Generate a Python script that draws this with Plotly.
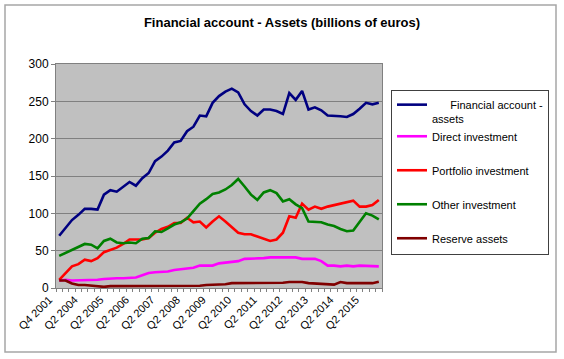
import plotly.graph_objects as go

quarters = ["Q4 2001", "Q4 2002", "Q4 2003"] + [f"Q{q} {y}" for y in range(2004, 2016) for q in range(1, 5)]

financial_account = [70, 81, 91, 98, 106, 106, 105, 125, 131, 129, 136, 142, 137, 147, 154, 170, 176, 184, 195, 197,
                     210, 216, 231, 230, 248, 257, 263, 267, 262, 246, 237, 231, 239, 239, 237, 233, 261, 252, 264, 239,
                     242, 238, 231, 231, 230, 229, 233, 240, 248, 246, 248]
direct_investment = [10, 11, 10, 10, 11, 11, 11, 12, 13, 13, 13, 14, 14, 17, 20, 21, 21, 22, 24, 25,
                     26, 27, 30, 30, 30, 33, 34, 36, 36, 39, 39, 39, 40, 41, 41, 41, 41, 41, 39, 39,
                     39, 36, 30, 30, 29, 30, 29, 30, 30, 30, 29]
portfolio_investment = [11, 20, 29, 32, 38, 36, 40, 48, 51, 54, 59, 65, 65, 65, 67, 74, 79, 82, 87, 87,
                        94, 88, 89, 81, 89, 96, 89, 82, 74, 72, 72, 69, 66, 63, 65, 74, 96, 94, 113, 105,
                        109, 106, 109, 111, 113, 116, 117, 109, 109, 111, 118]
other_investment = [43, 47, 52, 56, 59, 58, 53, 63, 66, 61, 60, 61, 60, 66, 67, 76, 75, 80, 85, 88,
                    93, 103, 113, 119, 126, 128, 132, 138, 146, 136, 125, 118, 128, 131, 127, 116, 119, 112, 107, 89,
                    89, 88, 85, 83, 79, 76, 77, 89, 100, 97, 92]
reserve_assets = [10, 10, 6, 4, 4, 3.5, 2.5, 1.5, 2.5, 2.5, 2.5, 3, 3, 3, 3, 3, 3, 3, 3, 3,
                  3, 3, 3, 4, 4, 4, 5, 6.5, 6.5, 6.5, 6.5, 6.5, 6.5, 6.5, 7, 7, 8, 8, 8, 6.5,
                  6, 6, 5.5, 4.5, 8, 6.5, 6.5, 6.5, 7, 6.5, 8.5]

series_names = ["\u00a0" * 6 + "Financial account -<br>assets", "Direct investment",
                "Portfolio investment", "Other investment", "Reserve assets"]
series_values = [financial_account, direct_investment, portfolio_investment, other_investment, reserve_assets]
series_colors = ["#000080", "#FF00FF", "#FF0000", "#008000", "#800000"]
series_groups = ["g1", "g1", "g2", "g3", "g4"]

tick_labels = [q if i % 4 == 0 else "" for i, q in enumerate(quarters)]

FONT = "Liberation Sans, Arial, sans-serif"

fig = go.Figure()
for name, vals, col, grp in zip(series_names, series_values, series_colors, series_groups):
    fig.add_trace(go.Scatter(x=quarters, y=vals, mode="lines", name=name,
                             line=dict(color=col, width=2.6), legendgroup=grp))

fig.update_layout(
    width=564, height=359,
    margin=dict(l=56, r=182, t=64, b=71),
    paper_bgcolor="white",
    plot_bgcolor="#C0C0C0",
    font=dict(family=FONT, size=11, color="black"),
    title=dict(text="<b>Financial account - Assets (billions of euros)</b>",
               x=0.5, xref="container", xanchor="center",
               y=1 - 22 / 359, yref="container", yanchor="middle",
               font=dict(family=FONT, size=13, color="black")),
    showlegend=True,
    legend=dict(x=(391 - 56) / 326, y=(288 - 90) / 224, xanchor="left", yanchor="top",
                bordercolor="#404040", borderwidth=1, bgcolor="white",
                font=dict(family=FONT, size=11, color="black"),
                tracegroupgap=15, traceorder="grouped", valign="top"),
    xaxis=dict(type="category", range=[-0.5, len(quarters) - 0.5],
               tickmode="array", tickvals=quarters, ticktext=tick_labels,
               tickson="boundaries", ticks="outside", ticklen=3, tickcolor="#808080",
               tickangle=-45, ticklabelshift=-10, showgrid=False, showline=True, linecolor="#808080",
               linewidth=1, mirror=True, tickfont=dict(size=11), zeroline=False),
    yaxis=dict(range=[0, 300], dtick=50, tick0=0, ticks="outside", ticklen=4,
               tickcolor="#808080", showgrid=True, gridcolor="#808080", gridwidth=1,
               showline=True, linecolor="#808080", linewidth=1, mirror=True,
               zeroline=False, tickfont=dict(size=12)),
    shapes=[dict(type="rect", xref="paper", yref="paper",
                 x0=(5 - 56) / 326, x1=(556 - 56) / 326,
                 y0=(288 - 352) / 224, y1=(288 - 5) / 224,
                 line=dict(color="#A6A6A6", width=1.5), fillcolor="rgba(0,0,0,0)", layer="below")],
)

fig.write_html("out.html", config={"displayModeBar": False},
               post_script="document.body.style.margin='0';")
